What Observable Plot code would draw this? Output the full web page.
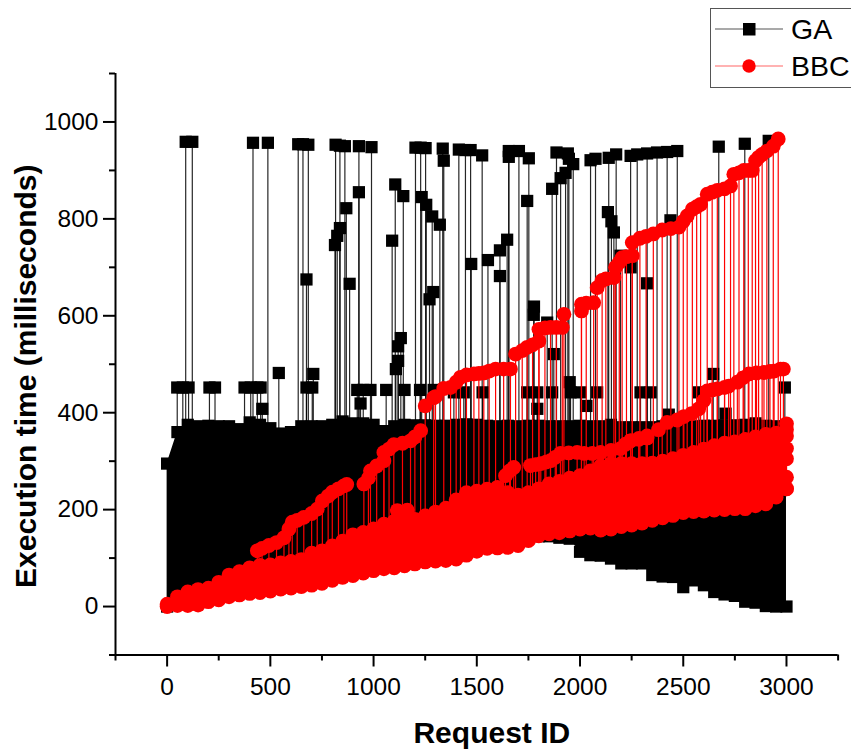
<!DOCTYPE html>
<html>
<head>
<meta charset="utf-8">
<script src="https://cdn.jsdelivr.net/npm/d3@7"></script>
<script src="https://cdn.jsdelivr.net/npm/@observablehq/plot@0.6"></script>
<style>
html,body{margin:0;padding:0;background:#fff;width:851px;height:751px;overflow:hidden;position:relative}
#legend{position:absolute;left:710px;top:8px;width:160px;height:78px;border:1.5px solid #555;background:#fff;font:28.5px "Liberation Sans",Arial,sans-serif;color:#000}
#legend svg{position:absolute;left:0;top:0}
#legend span{position:absolute;left:80px;line-height:30px}
svg{display:block}
</style>
</head>
<body>
<div id="chart"></div>
<div id="legend">
  <svg width="76" height="78">
    <line x1="4" x2="72" y1="20" y2="20" stroke="#555" stroke-width="1.2"/>
    <rect x="32" y="14" width="12.5" height="12.5" fill="#000"/>
    <line x1="4" x2="72" y1="57" y2="57" stroke="#f66" stroke-width="1.2"/>
    <circle cx="38" cy="57" r="6.7" fill="#f00"/>
  </svg>
  <span style="top:5px">GA</span>
  <span style="top:42px">BBC</span>
</div>
<script>
const seriesNames = ["GA", "BBC"];
const xMajor = [0, 500, 1000, 1500, 2000, 2500, 3000];
const xMinor = [-250, 250, 750, 1250, 1750, 2250, 2750, 3250];
const yMajor = [0, 200, 400, 600, 800, 1000];
const yMinor = [-100, 100, 300, 500, 700, 900, 1100];

const bandX = [0,50,100,150,200,250,300,350,400,450,500,550,600,650,700,750,800,850,900,950,1000,1050,1100,1150,1200,1250,1300,1350,1400,1450,1500,1550,1600,1650,1700,1750,1800,1850,1900,1950,2000,2050,2100,2150,2200,2250,2300,2350,2400,2450,2500,2550,2600,2650,2700,2750,2800,2850,2900,2950,3000];
const gaHigh = [295,360,375,372,373,372,372,366,380,375,368,357,360,372,372,372,375,382,378,378,375,362,372,375,374,374,373,373,375,376,375,373,372,373,372,373,373,372,372,372,373,372,372,375,370,370,370,370,372,372,370,372,373,373,374,374,375,378,373,372,370];
const gaLow = [0,5,10,15,22,30,40,45,55,60,65,72,78,82,88,92,100,105,112,118,122,128,132,136,140,144,148,150,148,150,150,150,150,150,150,150,145,145,142,140,113,106,105,99,89,89,89,65,62,61,40,54,44,30,25,22,10,8,1,0,0];
const bbcHigh = [5,20,30,35,38,50,65,72,80,85,86,90,93,97,110,115,125,135,148,153,160,170,176,180,180,187,195,203,220,235,238,242,246,235,230,235,243,253,258,265,270,280,290,295,295,295,295,296,300,305,312,318,325,332,337,340,345,350,355,358,365];
const bbcLow = [0,2,2,3,10,14,20,24,27,29,32,36,38,41,44,48,54,60,64,69,74,78,80,84,88,92,94,95,98,106,114,120,121,122,126,136,146,150,152,156,160,162,158,160,165,168,172,178,183,188,194,196,197,199,200,202,202,208,212,226,243];

const gaSpikeX = [90,122,416,488,635,658,684,816,837,861,929,990,1203,1228,1252,1335,1340,675,868,929,884,837,824,813,1105,1144,1090,1233,1255,1284,1321,1289,1271,1132,1119,1119,1108,541,708,49,76,104,205,232,375,405,437,453,675,703,921,950,985,1061,1150,1225,1291,461,937,1413,1445,1470,1526,1655,1655,1704,1752,1886,1941,1946,1967,1930,1906,1865,2051,2075,2139,2175,2245,2277,2325,2373,2422,2471,2672,2798,2914,1744,1473,1554,1612,1647,1612,2135,2152,2164,2438,2325,2245,2196,1777,1776,1841,1873,2645,1950,1389,1437,1528,1744,1793,1865,1954,2002,2083,2293,2342,2575,2992,1793,2031,2430,2705];
const gaSpikeY = [959,959,957,957,954,954,953,953,951,950,950,948,947,947,946,945,920,675,822,855,666,781,765,746,871,847,755,845,829,805,788,649,634,554,537,507,490,482,480,452,452,452,452,452,452,452,452,452,452,452,447,447,447,447,447,447,447,408,419,943,942,942,931,940,928,940,925,937,935,924,913,895,884,862,921,924,926,933,930,933,935,937,938,940,949,955,961,837,707,715,735,757,682,814,795,772,797,667,700,724,619,602,586,521,480,463,442,442,442,442,442,442,442,442,442,442,442,442,452,408,414,396,398];

const bbcTopX = [437,460,493,530,566,590,606,630,662,700,727,752,780,800,830,856,870,953,975,985,1015,1050,1050,1075,1098,1140,1179,1200,1228,1250,1291,1300,1340,1373,1400,1421,1450,1486,1510,1534,1560,1591,1630,1663,1688,1720,1744,1770,1801,1801,1830,1857,1885,1914,1922,2007,2007,2030,2066,2083,2107,2125,2164,2172,2190,2204,2225,2253,2253,2290,2320,2355,2398,2440,2479,2500,2519,2544,2565,2584,2616,2640,2665,2700,2729,2745,2770,2793,2815,2834,2850,2865,2882,2905,2936,2960];
const bbcTopY = [115,120,126,132,142,160,174,178,184,192,201,218,228,236,243,249,252,253,265,280,290,301,318,325,334,337,342,350,363,414,431,433,450,452,463,473,478,480,481,482,486,490,490,490,521,528,535,540,548,572,575,576,576,576,603,624,610,626,627,658,673,676,679,700,710,720,722,724,751,760,764,769,777,780,783,795,806,820,825,830,851,855,859,862,868,892,895,900,900,900,920,927,933,940,950,965];
const bbcMidX = [2245,2285,2325,2380,2422,2470,2503,2540,2575,2600,2616,2640,2665,2700,2720,2762,2790,2818,2855,2891,2920,2940,2971,2985];
const bbcMidY = [342,347,352,365,380,385,392,398,408,425,445,447,449,452,455,463,472,480,482,483,485,486,490,490];
const bbcLoX = [1115,1163,1639,1659,1679,1760,1785,1810,1835,1857,1880,1905,1945,1986,2020,2059,2100,2150,2196,2220,2245,2285,2325];
const bbcLoY = [198,199,270,280,287,291,293,295,298,301,308,316,317,318,316,316,318,322,326,335,342,345,348];
const bbcEndX = [3000,3000,3000,3000,3000,3000];
const bbcEndY = [377,352,326,305,267,243];

const band = bandX.map((x, i) => ({x, gaLow: gaLow[i], gaHigh: gaHigh[i], bbcLow: bbcLow[i], bbcHigh: bbcHigh[i]}));
const gaSpikes = gaSpikeX.map((x, i) => ({x, y: gaSpikeY[i]}));
const pairs = (xs, ys) => xs.map((x, i) => ({x, y: ys[i]}));
const bbcExtras = [...pairs(bbcTopX, bbcTopY), ...pairs(bbcMidX, bbcMidY), ...pairs(bbcLoX, bbcLoY), ...pairs(bbcEndX, bbcEndY)];
const massAt = x => bbcHigh[d3.bisectCenter(bandX, x)];
const FONT = '"Liberation Sans",Arial,sans-serif';
const SQUARE_R = 6.9, CIRCLE_R = 7.4;

const chart = Plot.plot({
  width: 851, height: 751,
  marginLeft: 115, marginRight: 13.4, marginTop: 73, marginBottom: 96.5,
  style: {background: "#fff", fontFamily: FONT},
  x: {domain: [-250, 3250], label: null},
  y: {domain: [-100, 1100], label: null},
  marks: [
    Plot.ruleX(gaSpikes, {x: "x", y1: 300, y2: "y", stroke: "#000", strokeWidth: 1.2, strokeOpacity: 0.85}),
    Plot.areaY(band, {x: "x", y1: "gaLow", y2: "gaHigh", fill: "#000"}),
    Plot.dot(gaSpikes, {x: "x", y: "y", symbol: "square", r: SQUARE_R, fill: "#000"}),
    Plot.dot(band, {x: "x", y: "gaHigh", symbol: "square", r: SQUARE_R, fill: "#000"}),
    Plot.dot(band, {x: "x", y: "gaLow", symbol: "square", r: SQUARE_R, fill: "#000"}),
    Plot.ruleX(bbcExtras, {x: "x", y1: d => massAt(d.x), y2: "y", stroke: "#f00", strokeWidth: 1.2}),
    Plot.areaY(band, {x: "x", y1: "bbcLow", y2: "bbcHigh", fill: "#f00"}),
    Plot.dot(band, {x: "x", y: "bbcHigh", r: CIRCLE_R, fill: "#f00"}),
    Plot.dot(band, {x: "x", y: "bbcLow", r: CIRCLE_R, fill: "#f00"}),
    Plot.dot(bbcExtras, {x: "x", y: "y", r: CIRCLE_R, fill: "#f00"}),
    Plot.ruleY([-100], {stroke: "#000", strokeWidth: 2}),
    Plot.ruleX([-250], {stroke: "#000", strokeWidth: 2}),
    Plot.axisX({ticks: xMajor, tickSize: 12, tickPadding: 11, strokeWidth: 2, fontSize: 24.5, label: null, tickFormat: d => String(d), fill: "#000", stroke: "#000"}),
    Plot.axisX({ticks: xMinor, tickSize: 6, strokeWidth: 2, text: null, label: null, stroke: "#000"}),
    Plot.axisY({ticks: yMajor, tickSize: 12, tickPadding: 5, strokeWidth: 2, fontSize: 24.5, label: null, tickFormat: d => String(d), fill: "#000", stroke: "#000"}),
    Plot.axisY({ticks: yMinor, tickSize: 6, strokeWidth: 2, text: null, label: null, stroke: "#000"}),
    Plot.text(["Request ID"], {frameAnchor: "bottom", dx: 15, dy: 88, textAnchor: "middle", fontSize: 30, fontWeight: "bold", fill: "#000"}),
    Plot.text(["Execution time (milliseconds)"], {frameAnchor: "left", textAnchor: "middle", rotate: -90, dx: -89, dy: 12, fontSize: 30, fontWeight: "bold", fill: "#000"})
  ]
});
document.getElementById("chart").append(chart);
</script>
</body>
</html>
